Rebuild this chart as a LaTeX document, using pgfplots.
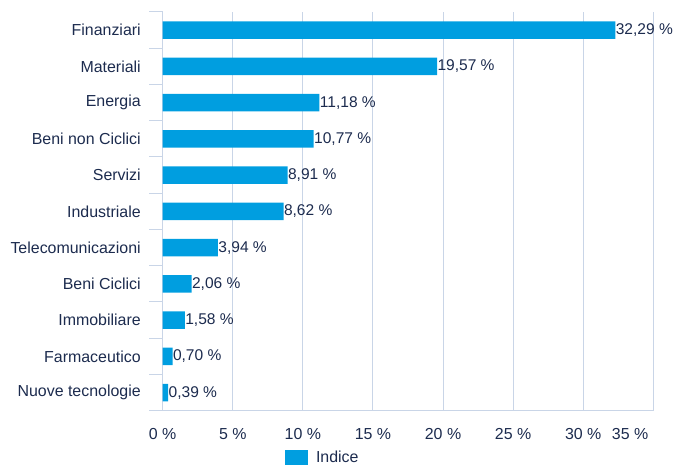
\documentclass[border=0pt]{standalone}
\usepackage{pgfplots}
\pgfplotsset{compat=1.18}
\usepackage{fontspec}
\setmainfont{Liberation Sans}

\definecolor{barblue}{HTML}{009EE0}
\definecolor{txtnavy}{HTML}{1C2B4E}
\definecolor{gridgray}{HTML}{C9D5E7}

\begin{document}
\fontsize{16}{19}\selectfont
\begin{tikzpicture}[x=1bp,y=1bp]
  \useasboundingbox (0,0) rectangle (674,465);
  \begin{axis}[
    at={(162.7bp,54.3bp)}, anchor=south west,
    scale only axis,
    width=490.6bp, height=398.7bp,
    xbar, bar width=17.4bp,
    xmin=0, xmax=35,
    ymin=-0.5, ymax=10.5,
    axis x line*=bottom, axis y line*=left,
    axis line style={gridgray, line width=1.2pt, -},
    xtick={0,5,...,30},
    xticklabels={0 \%,5 \%,10 \%,15 \%,20 \%,25 \%,30 \%},
    extra x ticks={35},
    extra x tick labels={35 \%},
    extra x tick style={xticklabel style={anchor=north east, xshift=0.5bp}},
    xmajorgrids,
    grid style={gridgray, line width=1pt},
    major x tick style={draw=none},
    xticklabel style={txtnavy, yshift=-8bp},
    ytick={0,...,10},
    yticklabels={Nuove tecnologie, Farmaceutico, Immobiliare, Beni Ciclici,
      Telecomunicazioni, Industriale, Servizi, Beni non Ciclici, Energia,
      Materiali, Finanziari},
    major y tick style={draw=none},
    minor ytick={-0.5,0.5,...,10.5},
    minor tick length=13.5bp,
    minor y tick style={gridgray, line width=1pt},
    tick align=outside,
    yticklabel style={txtnavy, anchor=east, inner sep=0pt, xshift=-17.5bp},
    point meta=explicit symbolic,
    nodes near coords,
    nodes near coords style={txtnavy, anchor=west, inner sep=0pt, xshift=0.3bp,
      font=\fontsize{15.6}{18}\selectfont},
    legend style={at={(0.249,-0.118)}, anchor=west, draw=none, fill=none,
      inner sep=0pt, font=\color{txtnavy}},
    legend image code/.code={\fill[barblue] (0bp,-8bp) rectangle (22.7bp,8bp);
      \path (29bp,0bp);},
    legend cell align=left,
    clip=false,
  ]
    \addplot[fill=barblue, draw=none] coordinates {
      (32.29,10) [32,29 \%]
      (19.57,9) [19,57 \%]
      (11.18,8) [11,18 \%]
      (10.77,7) [10,77 \%]
      (8.91,6) [8,91 \%]
      (8.62,5) [8,62 \%]
      (3.94,4) [3,94 \%]
      (2.06,3) [2,06 \%]
      (1.58,2) [1,58 \%]
      (0.70,1) [0,70 \%]
      (0.39,0) [0,39 \%]
    };
    \addlegendentry{Indice}
  \end{axis}
\end{tikzpicture}
\end{document}
